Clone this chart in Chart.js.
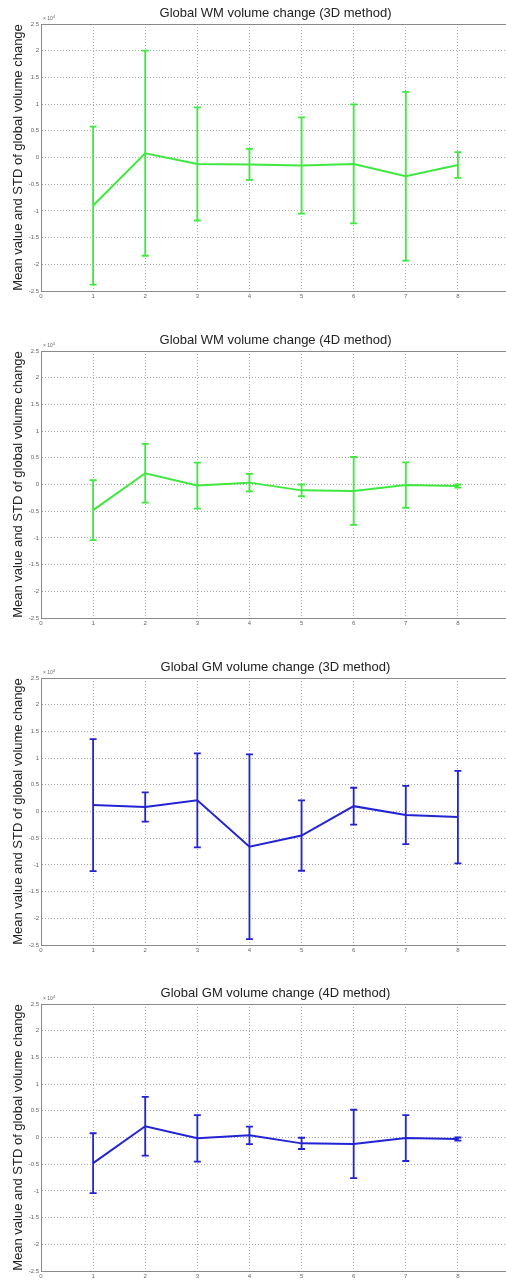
<!DOCTYPE html>
<html>
<head>
<meta charset="utf-8">
<script src="https://cdn.jsdelivr.net/npm/chart.js@4"></script>
<style>
  html, body { margin: 0; padding: 0; background: #fff; }
  body { width: 506px; height: 1280px; overflow: hidden; position: relative; }
  .panel { position: absolute; left: 0; width: 512px; height: 303px; }
</style>
</head>
<body>
<div class="panel" style="top:0px"><canvas id="c1"></canvas></div>
<div class="panel" style="top:327px"><canvas id="c2"></canvas></div>
<div class="panel" style="top:654px"><canvas id="c3"></canvas></div>
<div class="panel" style="top:980px"><canvas id="c4"></canvas></div>
<script>
// timepoints on the x axis
const steps = [1, 2, 3, 4, 5, 6, 7, 8];

// values are in units of 10^4
const wm3dMean = [-0.90, 0.08, -0.12, -0.13, -0.15, -0.12, -0.35, -0.14];
const wm3dStd  = [1.48, 1.92, 1.06, 0.29, 0.90, 1.115, 1.58, 0.24];

const wm4dMean = [-0.48, 0.21, -0.02, 0.035, -0.11, -0.12, -0.01, -0.03];
const wm4dStd  = [0.56, 0.55, 0.43, 0.165, 0.11, 0.635, 0.425, 0.03];

const gm3dMean = [0.12, 0.085, 0.21, -0.66, -0.45, 0.10, -0.065, -0.105];
const gm3dStd  = [1.235, 0.275, 0.88, 1.73, 0.66, 0.345, 0.545, 0.865];

const gm4dMean = [-0.48, 0.21, -0.015, 0.04, -0.11, -0.12, -0.01, -0.03];
const gm4dStd  = [0.56, 0.55, 0.435, 0.165, 0.105, 0.64, 0.43, 0.03];

const yTicks = [-2.5, -2, -1.5, -1, -0.5, 0, 0.5, 1, 1.5, 2, 2.5];
const xTicks = [0, 1, 2, 3, 4, 5, 6, 7, 8, 9];

const GREEN = '#3fe83f';
const BLUE = '#2323d6';

// error bars + box + exponent label, drawn through the chart scales
const errorBars = {
  id: 'errorBars',
  afterDatasetsDraw(chart, args, opts) {
    const ctx = chart.ctx;
    const xs = chart.scales.x, ys = chart.scales.y;
    ctx.save();
    ctx.strokeStyle = opts.color;
    ctx.lineWidth = 1.8;
    opts.mean.forEach(function(m, i) {
      const px = xs.getPixelForValue(steps[i]);
      const top = ys.getPixelForValue(m + opts.std[i]);
      const bot = ys.getPixelForValue(m - opts.std[i]);
      ctx.beginPath();
      ctx.moveTo(px, top); ctx.lineTo(px, bot);
      ctx.moveTo(px - 3.5, top); ctx.lineTo(px + 3.5, top);
      ctx.moveTo(px - 3.5, bot); ctx.lineTo(px + 3.5, bot);
      ctx.stroke();
    });
    ctx.restore();
  },
  afterDraw(chart) {
    const ctx = chart.ctx;
    const a = chart.chartArea;
    ctx.save();
    ctx.strokeStyle = '#8a8a8a';
    ctx.lineWidth = 1;
    ctx.beginPath();
    ctx.moveTo(a.left, a.top + 0.5);
    ctx.lineTo(a.right, a.top + 0.5);
    ctx.stroke();
    ctx.fillStyle = '#666';
    ctx.font = '5px Arial';
    ctx.textBaseline = 'alphabetic';
    ctx.fillText('\u00d7 10', a.left + 2, a.top - 4);
    ctx.font = '4px Arial';
    ctx.fillText('4', a.left + 12, a.top - 6.5);
    ctx.restore();
  }
};

function makeChart(id, title, mean, std, color) {
  const ctx = document.getElementById(id).getContext('2d');
  return new Chart(ctx, {
    type: 'line',
    data: {
      datasets: [{
        data: steps.map((s, i) => ({ x: s, y: mean[i] })),
        borderColor: color,
        borderWidth: 2,
        pointRadius: 0,
        fill: false,
        tension: 0
      }]
    },
    options: {
      responsive: true,
      maintainAspectRatio: false,
      animation: false,
      events: [],
      layout: { padding: { top: 0, right: 0, left: 0, bottom: 0 } },
      plugins: {
        legend: { display: false },
        tooltip: { enabled: false },
        title: {
          display: true,
          text: title,
          fullSize: false,
          color: '#222',
          font: { family: 'Arial', size: 13, weight: 'normal' },
          padding: { top: 6, bottom: 2.4 }
        },
        errorBars: { mean: mean, std: std, color: color }
      },
      scales: {
        x: {
          type: 'linear',
          min: 0,
          max: 9,
          afterBuildTicks(scale) { scale.ticks = xTicks.map(v => ({ value: v })); },
          afterFit(scale) { scale.height = 12; },
          ticks: {
            color: '#666',
            font: { family: 'Arial', size: 6 },
            padding: 2,
            maxRotation: 0,
            callback: v => (v > 8 ? '' : String(v))
          },
          grid: { color: '#a8a8a8', drawTicks: false, lineWidth: 1 },
          border: { display: true, color: '#8a8a8a', width: 1, dash: [1, 2] }
        },
        y: {
          min: -2.5,
          max: 2.5,
          afterBuildTicks(scale) { scale.ticks = yTicks.map(v => ({ value: v })); },
          afterFit(scale) { scale.width = 41; },
          ticks: {
            color: '#666',
            font: { family: 'Arial', size: 6 },
            padding: 2,
            callback: v => String(v)
          },
          grid: { color: '#a8a8a8', drawTicks: false, lineWidth: 1 },
          border: { display: true, color: '#8a8a8a', width: 1, dash: [1, 2] },
          title: {
            display: true,
            text: 'Mean value and STD of global volume change',
            color: '#222',
            font: { family: 'Arial', size: 13 },
            padding: { top: 11, bottom: 0 }
          }
        }
      }
    },
    plugins: [errorBars]
  });
}

makeChart('c1', 'Global WM volume change (3D method)', wm3dMean, wm3dStd, GREEN);
makeChart('c2', 'Global WM volume change (4D method)', wm4dMean, wm4dStd, GREEN);
makeChart('c3', 'Global GM volume change (3D method)', gm3dMean, gm3dStd, BLUE);
makeChart('c4', 'Global GM volume change (4D method)', gm4dMean, gm4dStd, BLUE);
</script>
</body>
</html>
